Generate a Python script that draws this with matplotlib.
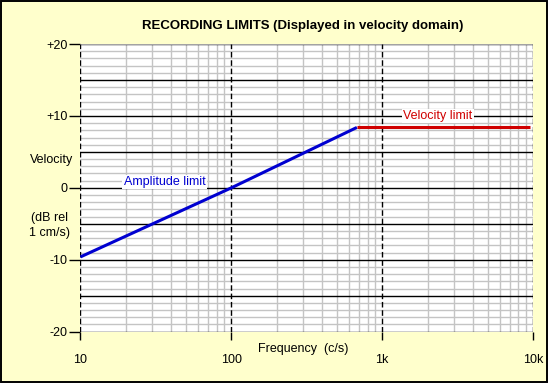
import matplotlib
matplotlib.use("Agg")
import matplotlib.pyplot as plt
import matplotlib.patches as mpatches
import numpy as np

plt.rcParams['font.family'] = ['Liberation Sans', 'DejaVu Sans']

# amplitude limit (blue) and velocity limit (red), dB rel 1 cm/s
amp_freq = [10, 100, 680]
amp_db = [-9.6, 0.0, 8.4]
vel_freq = [680, 9500]
vel_db = [8.4, 8.4]

xticks = [10, 100, 1000, 10000]
xticklabels = ["10", "100", "1k", "10k"]
yticks = [-20, -10, 0, 10, 20]
yticklabels = ["-20", "-10", "0", "+10", "+20"]

bg = "#ffffcc"
fig = plt.figure(figsize=(5.52, 3.86), dpi=100, facecolor="white")
fig.patches.append(mpatches.Rectangle((0.001, 0.011), 0.99, 0.987, transform=fig.transFigure,
                                      facecolor=bg, edgecolor="black", lw=1.4, zorder=-10))
ax = fig.add_axes([0.1458, 0.1407, 0.8198, 0.7453])
ax.set_facecolor("white")
ax.set_xscale("log")
ax.set_xlim(10, 10000)
ax.set_ylim(-20, 20)

# grid
for d in range(-20, 21):
    if d % 5 == 0:
        ax.axhline(d, color="black", lw=1.0, zorder=2)
    else:
        ax.axhline(d, color="#c4c4c4", lw=1.0, zorder=1)
for dec in [10, 100, 1000]:
    for m in range(2, 10):
        ax.axvline(dec * m, color="#c4c4c4", lw=1.0, zorder=1)
for f in xticks:
    ax.axvline(f, color="black", lw=1.0, ls=(0, (4, 2)), zorder=3)
ax.axhline(20, color="#c4c4c4", lw=1.2, zorder=2)

for s in ax.spines.values():
    s.set_visible(False)

ax.plot(amp_freq, amp_db, color="#0000d0", lw=2.2, zorder=5, solid_capstyle="butt")
ax.plot(vel_freq, vel_db, color="#d00000", lw=2.2, zorder=5, solid_capstyle="butt")

ax.text(36, 0.8, "Amplitude limit", color="#0000d0", fontsize=9, ha="center", va="center",
        zorder=4, bbox=dict(facecolor="white", edgecolor="none", pad=1))
ax.text(2330, 10.0, "Velocity limit", color="#d00000", fontsize=9, ha="center", va="center",
        zorder=4, bbox=dict(facecolor="white", edgecolor="none", pad=1))

ax.set_xticks(xticks)
ax.set_xticklabels(xticklabels)
ax.minorticks_off()
ax.set_yticks(yticks)
ax.set_yticklabels(yticklabels)
ax.tick_params(axis="x", direction="out", length=6, width=1, pad=10, labelsize=9)
ax.tick_params(axis="y", direction="out", length=8, width=1, pad=1, labelsize=9)

fig.text(0.548, 0.932, "RECORDING LIMITS (Displayed in velocity domain)", fontsize=9.5,
         fontweight="bold", ha="center", va="center")
fig.text(0.549, 0.096, "Frequency  (c/s)", fontsize=9, ha="center", va="center")
fig.text(0.093, 0.586, "Velocity", fontsize=9, ha="center", va="center")
fig.text(0.089, 0.415, "(dB rel\n1 cm/s)", fontsize=9, ha="center", va="center", linespacing=1.3)

fig.savefig("out.png", dpi=100, facecolor="white")
